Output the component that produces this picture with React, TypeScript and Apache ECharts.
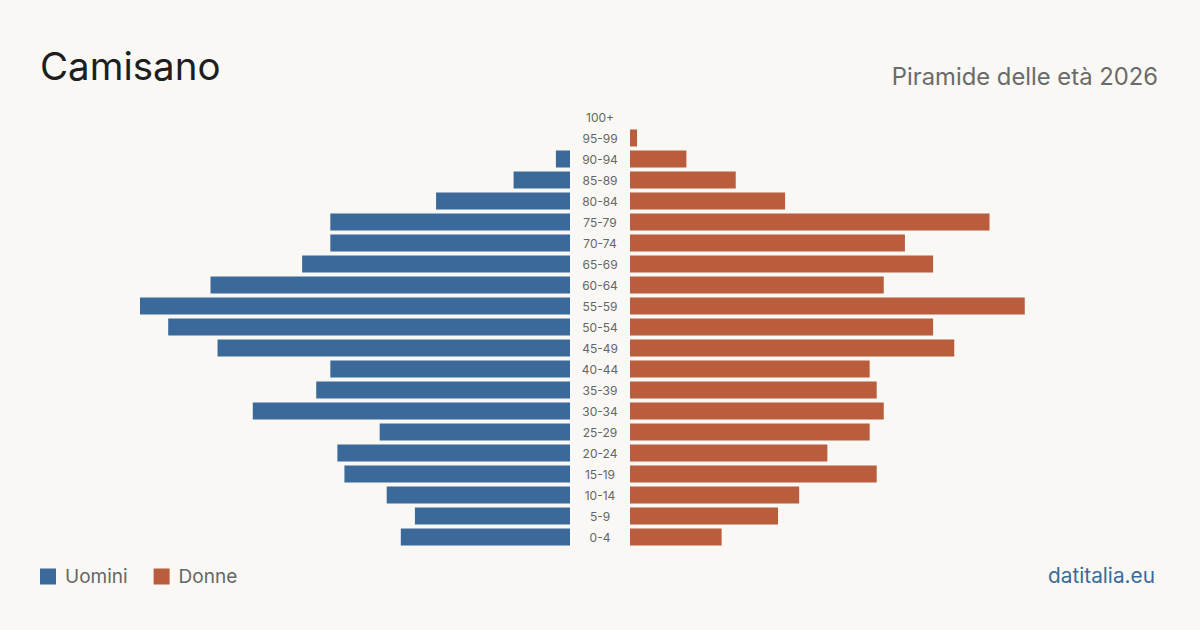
import React, { useEffect, useRef } from "react";
import * as echarts from "echarts";

// Age classes, bottom to top
const ageClasses = [
  "0-4", "5-9", "10-14", "15-19", "20-24", "25-29", "30-34", "35-39", "40-44", "45-49",
  "50-54", "55-59", "60-64", "65-69", "70-74", "75-79", "80-84", "85-89", "90-94", "95-99", "100+",
];

// Residents by age class
const men = [24, 22, 26, 32, 33, 27, 45, 36, 34, 50, 57, 61, 51, 38, 34, 34, 19, 8, 2, 0, 0];
const women = [13, 21, 24, 35, 28, 34, 36, 35, 34, 46, 43, 56, 36, 43, 39, 51, 22, 15, 8, 1, 0];

const BLUE = "#3B6A9A";
const ORANGE = "#BA5D3D";
const BG = "#F9F8F4";
const FONT = "Inter, 'Noto Sans', sans-serif";

export default function App() {
  const ref = useRef<HTMLDivElement>(null);

  useEffect(() => {
    if (!ref.current) return;
    const chart = echarts.init(ref.current, undefined, { renderer: "svg" });
    const maxVal = Math.max(...men, ...women);

    chart.setOption({
      animation: false,
      backgroundColor: BG,
      textStyle: { fontFamily: FONT },
      legend: {
        left: 40,
        top: 567,
        padding: 0,
        itemWidth: 16,
        itemHeight: 16,
        itemGap: 26,
        icon: "rect",
        textStyle: { fontSize: 19, color: "#666666", fontFamily: FONT, padding: [0, 0, 0, 4] },
        data: ["Uomini", "Donne"],
      },
      grid: [
        { left: 140, width: 430, top: 106.5, height: 441 },
        { left: 630, width: 430, top: 106.5, height: 441 },
      ],
      xAxis: [
        { gridIndex: 0, type: "value", min: 0, max: maxVal, inverse: true, show: false },
        { gridIndex: 1, type: "value", min: 0, max: maxVal, show: false },
      ],
      yAxis: [
        {
          gridIndex: 0,
          type: "category",
          data: ageClasses,
          position: "right",
          axisLine: { show: false },
          axisTick: { show: false },
          axisLabel: {
            align: "center",
            margin: 30,
            fontSize: 12,
            color: "#666666",
            fontFamily: FONT,
          },
        },
        {
          gridIndex: 1,
          type: "category",
          data: ageClasses,
          show: false,
        },
      ],
      series: [
        {
          name: "Uomini",
          type: "bar",
          xAxisIndex: 0,
          yAxisIndex: 0,
          data: men,
          barWidth: 17,
          itemStyle: { color: BLUE },
        },
        {
          name: "Donne",
          type: "bar",
          xAxisIndex: 1,
          yAxisIndex: 1,
          data: women,
          barWidth: 17,
          itemStyle: { color: ORANGE },
        },
      ],
      graphic: [
        {
          type: "text",
          left: 40,
          top: 46,
          style: { text: "Camisano", fontSize: 38.5, fill: "#1E1E1E", fontFamily: FONT },
        },
        {
          type: "text",
          right: 42,
          top: 64,
          style: { text: "Piramide delle età 2026", fontSize: 23.8, fill: "#6B6B6B", fontFamily: FONT },
        },
        {
          type: "text",
          right: 45,
          top: 565,
          style: { text: "datitalia.eu", fontSize: 20.8, fill: BLUE, fontFamily: FONT },
        },
      ],
    });

    return () => chart.dispose();
  }, []);

  return (
    <div
      ref={ref}
      style={{ position: "fixed", left: 0, top: 0, width: 1200, height: 630, background: BG }}
    />
  );
}
